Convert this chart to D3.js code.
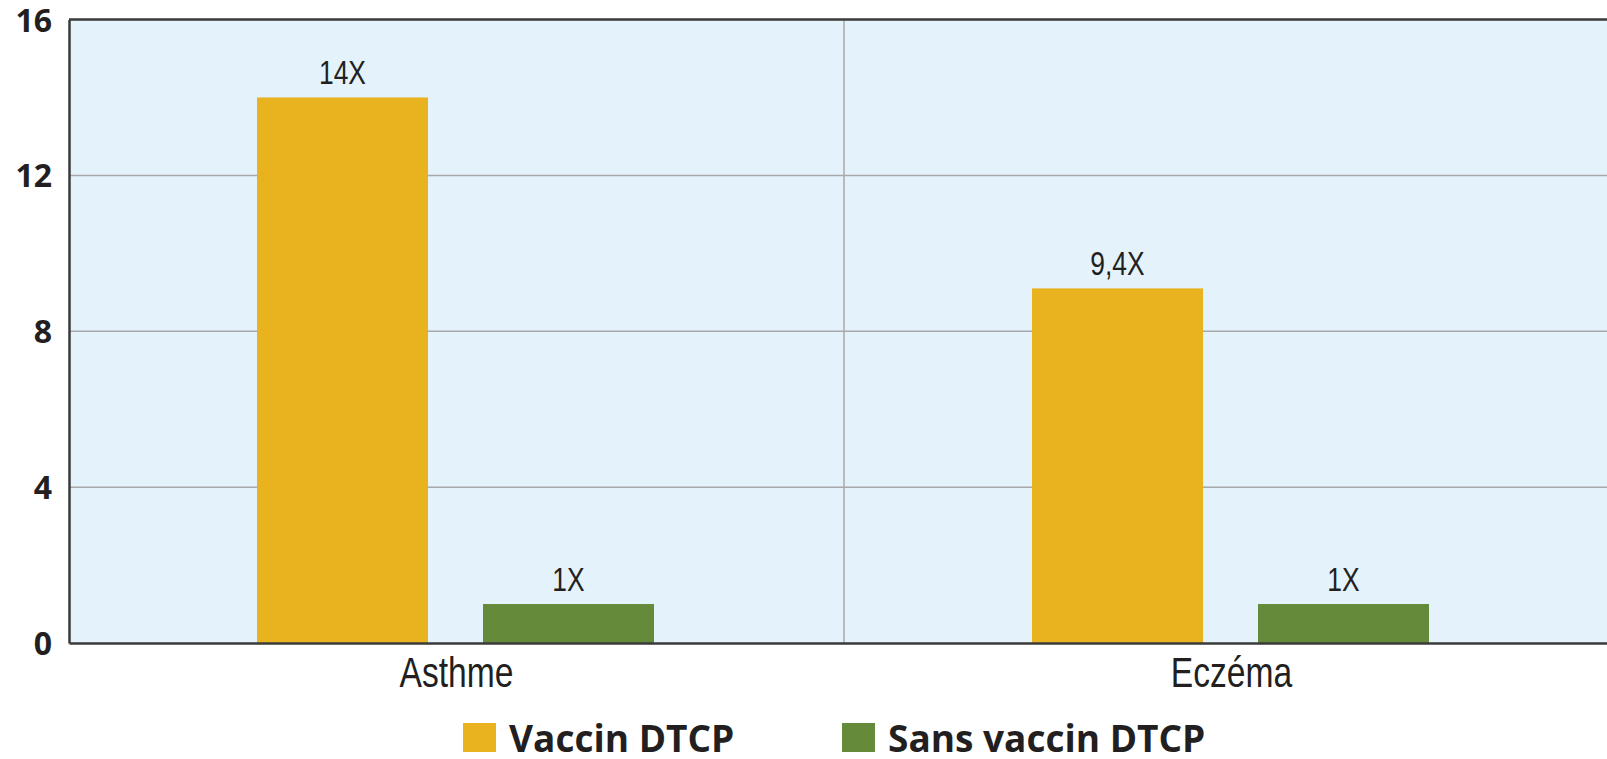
<!DOCTYPE html>
<html>
<head>
<meta charset="utf-8">
<script src="https://cdn.jsdelivr.net/npm/d3@7"></script>
<style>
  body { margin: 0; background: #fff; }
  svg { display: block; }
</style>
</head>
<body>
<script>
// data
var categories = ["Asthme", "Eczéma"];
var series = ["Vaccin DTCP", "Sans vaccin DTCP"];
var vaccinValues = [14, 9.1];
var sansValues = [1, 1];
var vaccinLabels = ["14X", "9,4X"];
var sansLabels = ["1X", "1X"];
var yTicks = [0, 4, 8, 12, 16];
var colors = ["#e8b31e", "#648a3a"];

var w = 1607;
var h = 759;
var plotLeft = 69, plotTop = 19.5, plotRight = 1619, plotBottom = 643;

var narrowFont = "'Liberation Sans', Arial, sans-serif";
var narrowScale = 0.8;
var boldFont = "'Open Sans', 'Noto Sans', sans-serif";
var textColor = "#231f20";

var rows = categories.map(function(c, i) {
  return {cat: c, vals: [
    {s: series[0], v: vaccinValues[i], label: vaccinLabels[i]},
    {s: series[1], v: sansValues[i], label: sansLabels[i]}
  ]};
});

var svg = d3.select("body").append("svg")
  .attr("width", w)
  .attr("height", h);

/*** Scales ***/
var x0 = d3.scaleBand()
  .domain(categories)
  .range([plotLeft, plotRight])
  .paddingInner(0)
  .paddingOuter(0);

var x1 = d3.scaleBand()
  .domain(series)
  .range([188, 585])
  .paddingInner(0.2434);

var y = d3.scaleLinear()
  .domain([0, 16])
  .range([plotBottom, plotTop]);

var color = d3.scaleOrdinal().domain(series).range(colors);

/*** Plot background ***/
svg.append("rect")
  .attr("x", plotLeft).attr("y", plotTop)
  .attr("width", plotRight - plotLeft).attr("height", plotBottom - plotTop)
  .attr("fill", "#e4f2fc");

/*** Grid ***/
svg.append("g")
  .selectAll("line")
  .data(yTicks.filter(function(t) { return t > 0 && t < 16; }))
  .join("line")
  .attr("x1", plotLeft).attr("x2", plotRight)
  .attr("y1", function(d) { return y(d); })
  .attr("y2", function(d) { return y(d); })
  .attr("stroke", "#a8a8a8")
  .attr("stroke-width", 1.5);

svg.append("g")
  .selectAll("line")
  .data(categories.slice(1))
  .join("line")
  .attr("x1", function(d) { return x0(d); })
  .attr("x2", function(d) { return x0(d); })
  .attr("y1", plotTop).attr("y2", plotBottom)
  .attr("stroke", "#a8a8a8")
  .attr("stroke-width", 1.5);

/*** Bars ***/
var groups = svg.append("g")
  .selectAll("g")
  .data(rows)
  .join("g")
  .attr("transform", function(d) { return "translate(" + x0(d.cat) + ",0)"; });

groups.selectAll("rect")
  .data(function(d) { return d.vals; })
  .join("rect")
  .attr("x", function(d) { return x1(d.s); })
  .attr("y", function(d) { return y(d.v); })
  .attr("width", x1.bandwidth())
  .attr("height", function(d) { return y(0) - y(d.v); })
  .attr("fill", function(d) { return color(d.s); });

// value labels, squeezed horizontally to look condensed
groups.selectAll("g.lbl")
  .data(function(d) { return d.vals; })
  .join("g")
  .attr("class", "lbl")
  .attr("transform", function(d) {
    return "translate(" + (x1(d.s) + x1.bandwidth() / 2) + "," + (y(d.v) - 13) + ")";
  })
  .append("text")
  .attr("transform", "scale(" + narrowScale + ",1)")
  .attr("text-anchor", "middle")
  .style("font-family", narrowFont)
  .style("font-size", "33px")
  .attr("fill", textColor)
  .text(function(d) { return d.label; });

/*** Axes ***/
var yAxis = d3.axisLeft(y)
  .tickValues(yTicks)
  .tickSize(0)
  .tickPadding(17);

var yG = svg.append("g")
  .attr("transform", "translate(" + plotLeft + ",0)")
  .call(yAxis);
yG.select(".domain").attr("stroke", "#3a3a3a").attr("stroke-width", 2.5);
yG.selectAll("text")
  .attr("dy", "0.36em")
  .style("font-family", boldFont)
  .style("font-weight", "bold")
  .style("font-size", "32px")
  .attr("fill", textColor);

var xAxis = d3.axisBottom(x0)
  .tickSize(0)
  .tickPadding(14);

var xG = svg.append("g")
  .attr("transform", "translate(0," + plotBottom + ")")
  .call(xAxis);
xG.select(".domain").attr("stroke", "#3a3a3a").attr("stroke-width", 2.5);
xG.selectAll("text")
  .attr("transform", "scale(" + narrowScale + ",1)")
  .style("font-family", narrowFont)
  .style("font-size", "42px")
  .attr("fill", textColor);

// top border
svg.append("line")
  .attr("x1", plotLeft).attr("x2", plotRight)
  .attr("y1", y(16)).attr("y2", y(16))
  .attr("stroke", "#3a3a3a")
  .attr("stroke-width", 2.5);

/*** Legend ***/
var legendX = [463, 842];
var legend = svg.append("g")
  .selectAll("g")
  .data(series)
  .join("g")
  .attr("transform", function(d, i) { return "translate(" + legendX[i] + ",723)"; });

legend.append("rect")
  .attr("width", 33).attr("height", 29)
  .attr("fill", function(d) { return color(d); });

legend.append("text")
  .attr("x", 46).attr("y", 29)
  .style("font-family", boldFont)
  .style("font-weight", "bold")
  .style("font-size", "37px")
  .attr("fill", textColor)
  .text(function(d) { return d; });
</script>
</body>
</html>
